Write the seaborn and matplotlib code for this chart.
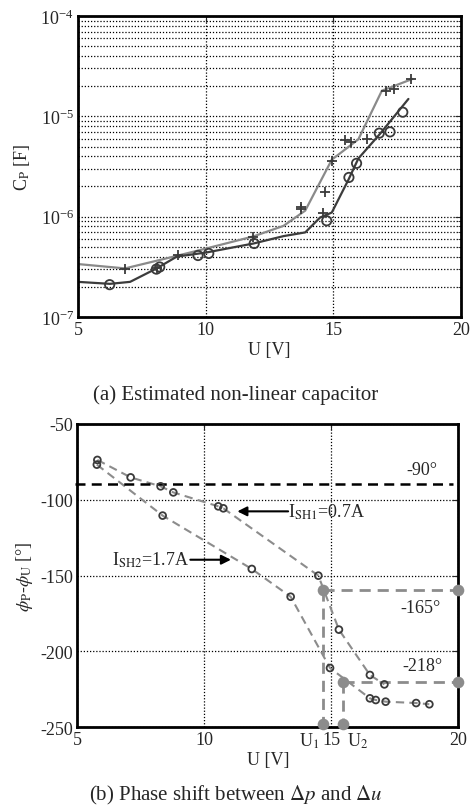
import numpy as np
import pandas as pd
import matplotlib
matplotlib.use("Agg")
import matplotlib.pyplot as plt
import matplotlib.ticker as mticker
from matplotlib.transforms import blended_transform_factory
import seaborn as sns

# ---------------- data: (a) estimated non-linear capacitor ----------------
u_fit_a1 = [5.0, 6.84, 8.87, 10.04, 11.87, 13.05, 13.9, 14.94, 15.98, 16.9, 18.1]
c_fit_a1 = [3.37e-7, 3.05e-7, 4.07e-7, 4.83e-7, 6.36e-7, 8.1e-7, 1.15e-6, 3.7e-6, 5.9e-6, 1.8e-5, 2.36e-5]
u_meas_a1 = [6.83, 8.1, 8.92, 11.86, 13.72, 13.74, 14.6, 14.67, 14.94, 15.46, 15.69, 16.3, 17.06, 17.39, 18.05]
c_meas_a1 = [3.0e-7, 3.1e-7, 4.17e-7, 6.3e-7, 1.24e-6, 1.18e-6, 1.09e-6, 1.77e-6, 3.6e-6, 5.8e-6, 5.6e-6, 5.9e-6, 1.8e-5, 1.87e-5, 2.36e-5]

u_fit_a2 = [5.0, 6.25, 7.04, 8.08, 8.87, 10.04, 11.87, 13.05, 13.9, 14.48, 14.94, 15.59, 15.98, 16.83, 17.94]
c_fit_a2 = [2.24e-7, 2.14e-7, 2.24e-7, 3.05e-7, 4.0e-7, 4.4e-7, 5.4e-7, 6.4e-7, 6.97e-7, 9.8e-7, 1.1e-6, 2.33e-6, 3.8e-6, 6.7e-6, 1.49e-5]
u_meas_a2 = [6.24, 8.07, 8.2, 9.7, 10.12, 11.9, 14.74, 15.61, 15.91, 16.8, 17.22, 17.72]
c_meas_a2 = [2.1e-7, 3.0e-7, 3.15e-7, 4.1e-7, 4.3e-7, 5.4e-7, 9.1e-7, 2.46e-6, 3.4e-6, 6.8e-6, 7.0e-6, 1.1e-5]

# ---------------- data: (b) phase shift ----------------
u_sh1 = [5.79, 7.1, 8.28, 8.78, 10.55, 10.75, 14.49, 15.3, 16.52, 17.09]
phi_sh1 = [-73.7, -85.2, -91.1, -95.1, -104.3, -105.6, -150.0, -185.6, -215.5, -221.7]
u_sh2 = [5.77, 8.36, 11.87, 13.4, 14.95, 16.52, 16.75, 17.14, 18.34, 18.86]
phi_sh2 = [-76.8, -110.4, -145.6, -163.9, -210.9, -230.9, -232.0, -233.1, -234.0, -234.8]
ref_line_phi = -89.6
u_marks = [14.68, 15.45]          # U1, U2
phi_marks = [-159.5, -220.3]      # -165°, -218° levels
phi_bottom = -248.0
level_labels = ["-165°", "-218°"]

df_a1 = pd.DataFrame({"U": u_fit_a1, "C": c_fit_a1})
df_a2 = pd.DataFrame({"U": u_fit_a2, "C": c_fit_a2})
dm_a1 = pd.DataFrame({"U": u_meas_a1, "C": c_meas_a1})
dm_a2 = pd.DataFrame({"U": u_meas_a2, "C": c_meas_a2})
db1 = pd.DataFrame({"U": u_sh1, "phi": phi_sh1})
db2 = pd.DataFrame({"U": u_sh2, "phi": phi_sh2})

sns.set_style("white")
plt.rcParams["font.family"] = ["Liberation Serif", "DejaVu Serif"]
plt.rcParams["mathtext.fontset"] = "stix"
plt.rcParams["axes.unicode_minus"] = False
plt.rcParams["xtick.direction"] = "in"
plt.rcParams["ytick.direction"] = "in"

fig = plt.figure(figsize=(4.71, 8.12), dpi=100)
W, H = 471.0, 812.0

def axes_px(l, t, r, b):
    return fig.add_axes([l / W, 1 - b / H, (r - l) / W, (b - t) / H])

TICK_FS = 13
LAB_FS = 13
CAP_FS = 15
LIGHT = "#8a8a8a"
DARK = "#3c3c3c"
MK = "#3a3a3a"

# ---------------- top axes ----------------
ax1 = axes_px(78, 17, 461, 318)
sns.lineplot(data=df_a1, x="U", y="C", ax=ax1, color=LIGHT, lw=1.6, sort=False, estimator=None)
sns.lineplot(data=df_a2, x="U", y="C", ax=ax1, color=DARK, lw=1.6, sort=False, estimator=None)
ax1.scatter(dm_a1["U"], dm_a1["C"], marker="+", s=45, color=MK, linewidths=1.3, zorder=4)
ax1.scatter(dm_a2["U"], dm_a2["C"], marker="o", s=45, facecolors="none", edgecolors=MK, linewidths=1.3, zorder=4)
ax1.set_yscale("log")
ax1.set_xlim(5, 20)
ax1.set_ylim(1e-7, 1e-4)
ax1.set_xticks([5, 10, 15, 20])
ax1.set_xticklabels(["5", "10", "15", "20"])
ax1.yaxis.set_major_locator(mticker.LogLocator(base=10, numticks=10))
ax1.yaxis.set_minor_locator(mticker.LogLocator(base=10, subs=np.arange(2, 10), numticks=10))
ax1.yaxis.set_minor_formatter(mticker.NullFormatter())
ax1.grid(True, which="major", axis="x", ls=(0, (1, 1.5)), color="black", lw=0.9)
ax1.grid(True, which="both", axis="y", ls=(0, (1, 1.5)), color="black", lw=0.9)
ax1.set_xlabel("U [V]", fontsize=LAB_FS, labelpad=2)
ax1.set_ylabel(r"C$_{\mathrm{P}}$ [F]", fontsize=LAB_FS, labelpad=6)
ax1.tick_params(axis="both", which="major", labelsize=TICK_FS, length=4, top=True, right=True, pad=3)
ax1.tick_params(axis="y", which="minor", length=2, right=True)
for s in ax1.spines.values():
    s.set_linewidth(2.0)
    s.set_color("black")

fig.text(236 / W, 1 - 395 / H, "(a) Estimated non-linear capacitor", ha="center", va="center", fontsize=CAP_FS)

# ---------------- bottom axes ----------------
ax2 = axes_px(77.3, 425, 458.3, 728.3)
GRAYD = "#8c8c8c"
sns.lineplot(data=db1, x="U", y="phi", ax=ax2, color=GRAYD, lw=1.5, sort=False, estimator=None,
             dashes=False, linestyle=(0, (4, 2.5)))
sns.lineplot(data=db2, x="U", y="phi", ax=ax2, color=GRAYD, lw=1.5, sort=False, estimator=None,
             dashes=False, linestyle=(0, (4, 2.5)))
ax2.scatter(db1["U"], db1["phi"], marker="o", s=24, facecolors="none", edgecolors=MK, linewidths=1.3, zorder=4)
ax2.scatter(db2["U"], db2["phi"], marker="o", s=24, facecolors="none", edgecolors=MK, linewidths=1.3, zorder=4)

ax2.axhline(ref_line_phi, color="black", lw=1.8, ls=(0, (4, 2.5)), xmin=-0.005, xmax=0.985, clip_on=False)

for um, pm in zip(u_marks, phi_marks):
    ax2.plot([um, 20], [pm, pm], color=GRAYD, lw=2.0, ls=(0, (4, 2.5)), zorder=3, clip_on=False)
    ax2.plot([um, um], [pm, phi_bottom], color=GRAYD, lw=2.0, ls=(0, (4, 2.5)), zorder=3, clip_on=False)
    ax2.scatter([um, 20, um], [pm, pm, phi_bottom], s=70, color=GRAYD, zorder=5, clip_on=False, linewidths=0)

ax2.text(18.55, -79.7, "-90°", ha="center", va="center", fontsize=LAB_FS)
ax2.text(18.5, -170.9, level_labels[0], ha="center", va="center", fontsize=LAB_FS)
ax2.text(18.57, -209.4, level_labels[1], ha="center", va="center", fontsize=LAB_FS)

ax2.annotate("", xy=(11.3, -107.6), xytext=(13.3, -107.6),
             arrowprops=dict(arrowstyle="-|>", color="black", lw=1.5, mutation_scale=14, shrinkA=0, shrinkB=0))
ax2.text(13.3, -107.6, r"I$_{\mathrm{SH1}}$=0.7A", ha="left", va="center", fontsize=LAB_FS)
ax2.annotate("", xy=(11.05, -139.5), xytext=(9.45, -139.5),
             arrowprops=dict(arrowstyle="-|>", color="black", lw=1.5, mutation_scale=14, shrinkA=0, shrinkB=0))
ax2.text(9.4, -139.5, r"I$_{\mathrm{SH2}}$=1.7A", ha="right", va="center", fontsize=LAB_FS)

ax2.set_xlim(5, 20)
ax2.set_ylim(-250, -50)
ax2.set_xticks([5, 10, 15, 20])
ax2.set_xticklabels(["5", "10", "15", "20"])
ax2.set_yticks([-250, -200, -150, -100, -50])
ax2.grid(True, which="major", ls=(0, (1, 1.5)), color="black", lw=0.9)
ax2.set_xlabel("U [V]", fontsize=LAB_FS, labelpad=2)
ax2.set_ylabel(r"$\phi_{\mathrm{P}}$-$\phi_{\mathrm{U}}$ [°]", fontsize=LAB_FS, labelpad=4)
ax2.tick_params(axis="both", which="major", labelsize=TICK_FS, length=4, top=True, right=True, pad=3)
for s in ax2.spines.values():
    s.set_linewidth(2.0)
    s.set_color("black")

trans = blended_transform_factory(ax2.transData, ax2.transAxes)
ax2.text(14.12, -0.012, r"U$_1$", transform=trans, ha="center", va="top", fontsize=TICK_FS)
ax2.text(16.05, -0.012, r"U$_2$", transform=trans, ha="center", va="top", fontsize=TICK_FS)

fig.text(236 / W, 1 - 795 / H, r"(b) Phase shift between $\Delta p$ and $\Delta u$", ha="center", va="center", fontsize=CAP_FS)

fig.savefig("out.png", dpi=100)
